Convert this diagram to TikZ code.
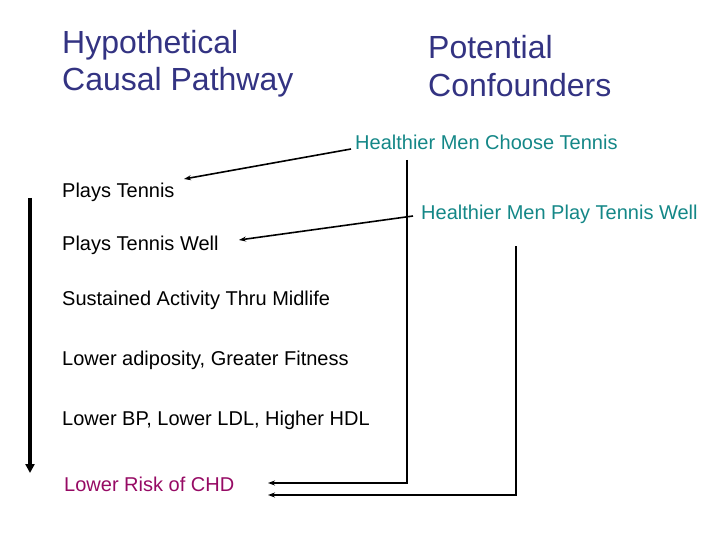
\documentclass[tikz,border=0pt]{standalone}
\usepackage{fontspec}
\setmainfont{Liberation Sans}
\usetikzlibrary{arrows.meta}
\definecolor{titleblue}{RGB}{51,51,130}
\definecolor{teal2}{RGB}{20,135,135}
\definecolor{plum}{RGB}{150,10,100}
\tikzset{
  lbl/.style={anchor=base west, inner sep=0pt, font=\fontsize{20}{24}\selectfont},
  ttl/.style={anchor=base west, inner sep=0pt, text=titleblue, font=\fontsize{32}{37}\selectfont},
  conf/.style={lbl, text=teal2},
  thin/.style={line width=1.6pt, -{Stealth[length=7pt,width=5pt]}},
  thick/.style={line width=3.6pt, -{Triangle[length=9pt,width=9pt]}}
}
\begin{document}
\begin{tikzpicture}[x=1pt,y=-1pt]
\useasboundingbox (0,0) rectangle (720,540);
\node[ttl] (t1) at (62,54) {Hypothetical};
\node[ttl] (t2) at (62,91) {Causal Pathway};
\node[ttl] (t3) at (428,59) {Potential};
\node[ttl] (t4) at (428,97) {Confounders};
\node[conf] (c1) at (355,150) {Healthier Men Choose Tennis};
\node[conf] (c2) at (421,220) {Healthier Men Play Tennis Well};
\node[lbl] (p1) at (62,197) {Plays Tennis};
\node[lbl] (p2) at (62,250) {Plays Tennis Well};
\node[lbl] (p3) at (62,305) {Sustained Activity Thru Midlife};
\node[lbl] (p4) at (62,365) {Lower adiposity, Greater Fitness};
\node[lbl] (p5) at (62,425) {Lower BP, Lower LDL, Higher HDL};
\node[lbl, text=plum] (p6) at (64,491) {Lower Risk of CHD};
% coordinates
\coordinate (a1s) at (351,149);
\coordinate (a1e) at (184,179);
\coordinate (a2s) at (413,216);
\coordinate (a2e) at (239,240);
\coordinate (v1t) at (407,160);
\coordinate (v1b) at (407,483);
\coordinate (h1e) at (268,483);
\coordinate (v2t) at (516,246);
\coordinate (v2b) at (516,495);
\coordinate (h2e) at (268,495);
\coordinate (ms) at (30,198);
\coordinate (me) at (30,473);
\draw[thin] (a1s) -- (a1e);
\draw[thin] (a2s) -- (a2e);
\draw[thin] (v1t) -- (v1b) -- (h1e);
\draw[thin] (v2t) -- (v2b) -- (h2e);
\draw[thick] (ms) -- (me);
\end{tikzpicture}
\end{document}
